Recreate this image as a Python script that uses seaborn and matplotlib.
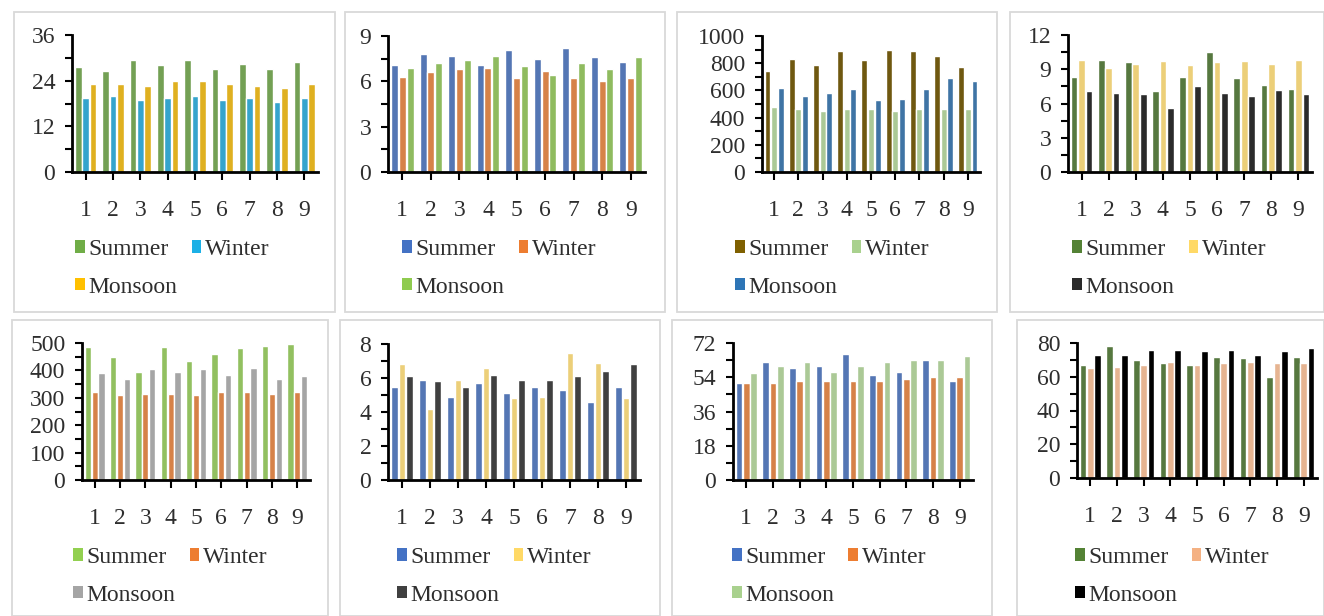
import pandas as pd
import seaborn as sns
import matplotlib.pyplot as plt
from matplotlib.patches import Rectangle, Patch
from matplotlib.ticker import MultipleLocator

sns.set_style("white")
plt.rcParams['font.family'] = ['Liberation Serif', 'DejaVu Serif']

# ---------------------------------------------------------------
# DATA
# ---------------------------------------------------------------
sites = ["1", "2", "3", "4", "5", "6", "7", "8", "9"]
seasons = ["Summer", "Winter", "Monsoon"]

p1_summer = [27.5, 26.5, 29.5, 28, 29.5, 27, 28.5, 27, 29]
p1_winter = [19.5, 20, 19, 19.5, 20, 19, 19.5, 18.5, 19.5]
p1_monsoon = [23, 23, 22.5, 24, 24, 23, 22.5, 22, 23]

p2_summer = [7.1, 7.8, 7.7, 7.1, 8.1, 7.5, 8.2, 7.6, 7.3]
p2_winter = [6.3, 6.6, 6.8, 6.9, 6.2, 6.7, 6.2, 6.0, 6.2]
p2_monsoon = [6.9, 7.2, 7.4, 7.7, 7.0, 6.4, 7.2, 6.8, 7.6]

p3_summer = [740, 830, 790, 890, 820, 900, 890, 850, 770]
p3_winter = [480, 460, 450, 460, 460, 450, 460, 460, 460]
p3_monsoon = [620, 560, 580, 610, 530, 540, 610, 690, 670]

p4_summer = [8.3, 9.8, 9.6, 7.1, 8.3, 10.5, 8.2, 7.6, 7.3]
p4_winter = [9.8, 9.1, 9.5, 9.7, 9.4, 9.6, 9.7, 9.5, 9.8]
p4_monsoon = [7.1, 6.9, 6.8, 5.6, 7.5, 6.9, 6.7, 7.2, 6.8]

p5_summer = [485, 450, 395, 485, 435, 460, 480, 490, 495]
p5_winter = [320, 310, 315, 315, 310, 320, 320, 315, 320]
p5_monsoon = [390, 370, 405, 395, 405, 385, 410, 370, 380]

p6_summer = [5.5, 5.9, 4.9, 5.7, 5.1, 5.5, 5.3, 4.6, 5.5]
p6_winter = [6.8, 4.2, 5.9, 6.6, 4.8, 4.9, 7.5, 6.9, 4.8]
p6_monsoon = [6.1, 5.8, 5.5, 6.2, 5.9, 5.9, 6.1, 6.4, 6.8]

p7_summer = [51, 62, 59, 60, 66, 55, 57, 63, 52]
p7_winter = [51, 51, 52, 52, 52, 52, 53, 54, 54]
p7_monsoon = [56, 60, 62, 57, 60, 62, 63, 63, 65]

p8_summer = [67, 78, 70, 68, 67, 72, 71, 60, 72]
p8_winter = [65, 66, 67, 69, 67, 68, 69, 68, 68]
p8_monsoon = [73, 73, 76, 76, 75, 76, 73, 75, 77]

# ---------------------------------------------------------------
# LAYOUT (pixels)
# ---------------------------------------------------------------
W, H = 1324, 616
fig = plt.figure(figsize=(W / 100, H / 100), dpi=100)

panels = [
    # data, colours, ymax, major, minor, axes (l, t, r, b), legend (x, y), box (l, t, r, b)
    ((p1_summer, p1_winter, p1_monsoon), ["#70AD47", "#1CB0E6", "#FFC000"], 36, 12, 6,
     (72, 35, 318, 172), (75, 239), (14, 12, 335, 312)),
    ((p2_summer, p2_winter, p2_monsoon), ["#4472C4", "#ED7D31", "#8FCB4F"], 9, 3, 1.5,
     (388, 36, 645, 172), (402, 239), (345, 12, 665, 312)),
    ((p3_summer, p3_winter, p3_monsoon), ["#7F6000", "#A9D18E", "#2E75B6"], 1000, 200, 100,
     (762, 36, 980, 172), (735, 239), (677, 12, 997, 312)),
    ((p4_summer, p4_winter, p4_monsoon), ["#548235", "#FFD966", "#2B2B2B"], 12, 3, 1.5,
     (1068, 35, 1312, 172), (1072, 239), (1010, 12, 1324, 312)),
    ((p5_summer, p5_winter, p5_monsoon), ["#92D050", "#ED7D31", "#A5A5A5"], 500, 100, 50,
     (82, 343, 310, 480), (73, 547), (12, 320, 328, 616)),
    ((p6_summer, p6_winter, p6_monsoon), ["#4472C4", "#FFD966", "#404040"], 8, 2, 1,
     (388, 344, 640, 480), (397, 547), (340, 320, 660, 616)),
    ((p7_summer, p7_winter, p7_monsoon), ["#4472C4", "#ED7D31", "#A9D18E"], 72, 18, 9,
     (733, 343, 973, 480), (732, 547), (672, 320, 992, 616)),
    ((p8_summer, p8_winter, p8_monsoon), ["#548235", "#F4B183", "#000000"], 80, 20, 10,
     (1077, 343, 1317, 478), (1075, 547), (1017, 320, 1324, 616)),
]

for series, colors, ymax, major, minor, (l, t, r, b), (lx, ly), (bl, bt, br, bb) in panels:
    # panel frame
    fig.patches.append(Rectangle((bl / W, 1 - bb / H), (br - bl) / W, (bb - bt) / H,
                                 transform=fig.transFigure, fill=False,
                                 edgecolor="#D9D9D9", linewidth=1.3))

    ax = fig.add_axes([l / W, 1 - b / H, (r - l) / W, (b - t) / H])
    df = pd.DataFrame({
        "site": sites * 3,
        "value": list(series[0]) + list(series[1]) + list(series[2]),
        "season": [s for s in seasons for _ in sites],
    })
    sns.barplot(data=df, x="site", y="value", hue="season", order=sites,
                hue_order=seasons, palette=colors, width=0.82, gap=0.1,
                legend=False, ax=ax)

    ax.set_xlim(-0.5, 8.5)
    ax.set_ylim(0, ymax)
    ax.yaxis.set_major_locator(MultipleLocator(major))
    ax.yaxis.set_minor_locator(MultipleLocator(minor))
    ax.set_xlabel("")
    ax.set_ylabel("")
    ax.set_facecolor("none")
    for side in ["top", "right"]:
        ax.spines[side].set_visible(False)
    for side in ["left", "bottom"]:
        ax.spines[side].set_color("black")
        ax.spines[side].set_linewidth(2)
    ax.tick_params(axis="y", which="both", direction="out", length=5, width=1.5,
                   color="black", left=True, labelsize=17, labelcolor="#2E2E2E", pad=7)
    ax.tick_params(axis="x", which="major", direction="out", length=6, width=1.5,
                   color="black", bottom=True, labelsize=17, labelcolor="#2E2E2E", pad=14)

    handles = [Patch(facecolor=c, edgecolor="none") for c in colors]
    # reorder so that matplotlib's column filling gives rows: Summer Winter / Monsoon
    order = [0, 2, 1]
    ax.legend([handles[i] for i in order], [seasons[i] for i in order], ncol=2,
              loc="upper left", bbox_to_anchor=(lx / W, 1 - ly / H),
              bbox_transform=fig.transFigure, frameon=False, fontsize=17,
              handlelength=0.42, handleheight=0.42, handletextpad=0.15,
              columnspacing=0.6, labelspacing=0.7, borderpad=0, borderaxespad=0,
              labelcolor="#2E2E2E")

fig.savefig("out.png", dpi=100)
